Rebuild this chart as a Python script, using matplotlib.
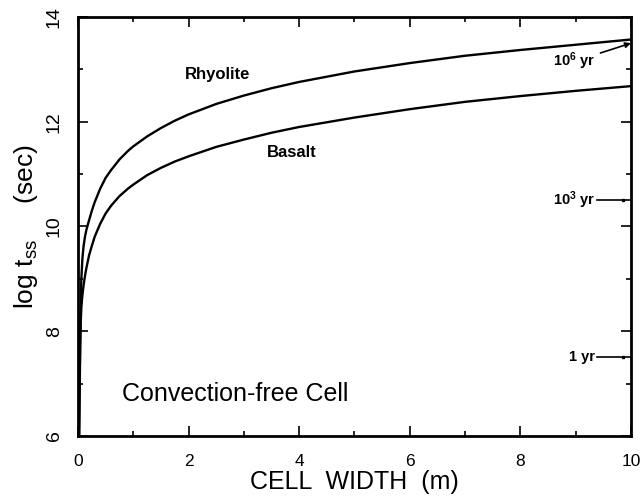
import matplotlib.pyplot as plt
from matplotlib.ticker import MultipleLocator

plt.rcParams['font.family'] = ['Liberation Sans', 'DejaVu Sans']
plt.rcParams['mathtext.fontset'] = 'custom'
plt.rcParams['mathtext.rm'] = 'Liberation Sans'
plt.rcParams['mathtext.bf'] = 'Liberation Sans:bold'
plt.rcParams['mathtext.it'] = 'Liberation Sans:italic'

# cell width (m) and log of time to steady state (sec)
width_m = [0.02, 0.03, 0.04, 0.05, 0.06, 0.08, 0.1, 0.125, 0.15, 0.2, 0.25,
           0.3, 0.4, 0.5, 0.6, 0.75, 0.9, 1.0, 1.25, 1.5, 1.75, 2.0, 2.5,
           3.0, 3.5, 4.0, 5.0, 6.0, 7.0, 8.0, 9.0, 10.0]
rhyolite = [6.0, 7.1, 8.0, 8.6, 9.0, 9.4, 9.62, 9.8, 9.93, 10.12, 10.3,
            10.46, 10.72, 10.93, 11.08, 11.28, 11.44, 11.53, 11.72, 11.88, 12.02, 12.14, 12.34,
            12.5, 12.64, 12.76, 12.96, 13.12, 13.26, 13.37, 13.47, 13.57]
basalt = [6.0, 6.9, 7.7, 8.2, 8.45, 8.7, 8.87, 9.05, 9.2, 9.45, 9.63,
          9.8, 10.05, 10.25, 10.4, 10.58, 10.72, 10.8, 10.98, 11.12, 11.24, 11.34, 11.52,
          11.66, 11.79, 11.9, 12.08, 12.24, 12.38, 12.49, 12.59, 12.68]

# reference times marked on the right axis
ref_labels = ['1 yr', r'10$^{\mathbf{3}}$ yr', r'10$^{\mathbf{6}}$ yr']
ref_log_sec = [7.5, 10.5, 13.5]

x_ticks = [0, 2, 4, 6, 8, 10]
y_ticks = [6, 8, 10, 12, 14]

fig = plt.figure(figsize=(6.4, 5.04), dpi=100)
ax = fig.add_axes([0.1219, 0.1349, 0.864, 0.8314])

ax.plot(width_m, rhyolite, color='black', lw=1.7)
ax.plot(width_m, basalt, color='black', lw=1.7)

ax.text(2.52, 12.9, 'Rhyolite', fontsize=12, fontweight='bold', ha='center', va='center')
ax.text(3.87, 11.42, 'Basalt', fontsize=12, fontweight='bold', ha='center', va='center')
ax.text(0.8, 6.8, 'Convection-free Cell', fontsize=18, ha='left', va='center')

# short markers for 1 yr and 10^3 yr
for lab, y in zip(ref_labels[:2], ref_log_sec[:2]):
    ax.plot([9.38, 10], [y, y], color='black', lw=1.2, clip_on=False)
    ax.plot(9.85, y, 'ks', ms=2)
    ax.text(9.35, y, lab, fontsize=10.5, fontweight='bold', ha='right', va='center')

ax.annotate(ref_labels[2], xy=(10, ref_log_sec[2]), xytext=(9.35, 13.15),
            fontsize=10.5, fontweight='bold', ha='right', va='center',
            arrowprops=dict(arrowstyle='-|>', color='black', lw=1.2,
                            mutation_scale=8, shrinkA=2, shrinkB=0))

ax.set_xlim(0, 10)
ax.set_ylim(6, 14)
ax.set_xticks(x_ticks)
ax.set_xticklabels([str(t) for t in x_ticks])
ax.set_yticks(y_ticks)
ax.set_yticklabels([str(t) for t in y_ticks], rotation=90, va='center')
ax.xaxis.set_minor_locator(MultipleLocator(1))
ax.yaxis.set_minor_locator(MultipleLocator(1))
ax.tick_params(which='both', direction='in', top=True, right=True, width=1.2)
ax.tick_params(which='major', length=7)
ax.tick_params(which='minor', length=3.5)
ax.tick_params(axis='x', pad=13, labelsize=12.5)
ax.tick_params(axis='y', pad=11, labelsize=14)
for s in ax.spines.values():
    s.set_linewidth(2)

ax.set_xlabel('CELL  WIDTH  (m)', fontsize=18, labelpad=1)
ax.set_ylabel(r'log t$_{\rm ss}$' + '     (sec)', fontsize=19, labelpad=4)

fig.savefig('out.png', dpi=100)
